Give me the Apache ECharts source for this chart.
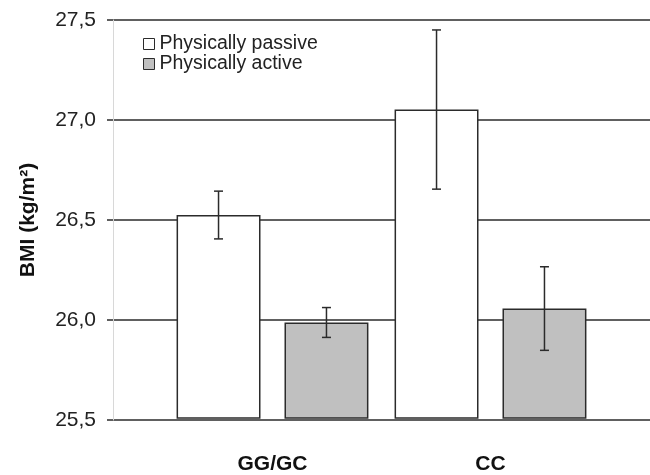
<!DOCTYPE html>
<html><head><meta charset="utf-8">
<script src="https://cdn.jsdelivr.net/npm/echarts@6/dist/echarts.min.js"></script>
<style>html,body{margin:0;padding:0;background:#fff}#c{width:650px;height:475px}</style>
</head><body><div id="c"></div>
<script>
const categories = ['GG/GC', 'CC'];
const seriesNames = ['Physically passive', 'Physically active'];
const passive = [26.52, 27.05];
const active = [25.98, 26.05];
const passiveErr = [0.12, 0.40];
const activeErr = [0.075, 0.21];
const yMin = 25.5, yMax = 27.5, yStep = 0.5;

const FONT = 'Arial, "Liberation Sans", sans-serif';
const INK = '#2b2b2b';
const BAR_W = 0.385;   // fraction of category band
const BAR_GAP = 0.286; // fraction of bar width

function errData(vals, errs, s) {
  return vals.map((v, i) => [i, v - errs[i], v + errs[i], s]);
}

function renderErr(params, api) {
  const x = api.value(0);
  const s = api.value(3);
  const lo = api.coord([x, api.value(1)]);
  const hi = api.coord([x, api.value(2)]);
  const band = api.size([1, 0])[0];
  const bw = band * BAR_W;
  const off = (bw + bw * BAR_GAP) / 2 * (s === 0 ? -1 : 1);
  const cx = lo[0] + off;
  const cap = 4.5;
  const st = { stroke: INK, lineWidth: 1.5 };
  return {
    type: 'group',
    children: [
      { type: 'line', shape: { x1: cx, y1: lo[1], x2: cx, y2: hi[1] }, style: st },
      { type: 'line', shape: { x1: cx - cap, y1: lo[1], x2: cx + cap, y2: lo[1] }, style: st },
      { type: 'line', shape: { x1: cx - cap, y1: hi[1], x2: cx + cap, y2: hi[1] }, style: st }
    ]
  };
}

const chart = echarts.init(document.getElementById('c'), null, { renderer: 'canvas' });
chart.setOption({
  backgroundColor: '#fff',
  animation: false,
  textStyle: { fontFamily: FONT },
  legend: {
    orient: 'vertical', left: 138, top: 29,
    icon: 'rect', itemWidth: 11, itemHeight: 11, itemGap: 0,
    textStyle: { fontSize: 19.5, color: '#222', fontFamily: FONT, lineHeight: 18 },
    data: [
      { name: seriesNames[0], itemStyle: { color: '#fff', borderColor: INK, borderWidth: 1 } },
      { name: seriesNames[1], itemStyle: { color: '#c0c0c0', borderColor: INK, borderWidth: 1 } }
    ]
  },
  grid: [
    { left: 113, right: 0, top: 20, bottom: 55 },
    { left: 163.5, width: 436, top: 20, bottom: 55 }
  ],
  xAxis: [
    { type: 'category', gridIndex: 0, data: categories, show: false },
    { type: 'category', gridIndex: 1, data: categories,
      axisLine: { show: false }, axisTick: { show: false },
      axisLabel: { fontSize: 21, fontWeight: 'bold', color: '#111', margin: 36, fontFamily: FONT } }
  ],
  yAxis: [
    { type: 'value', gridIndex: 0, min: yMin, max: yMax, interval: yStep,
      name: 'BMI (kg/m²)', nameLocation: 'middle', nameGap: 74,
      nameTextStyle: { fontSize: 21, fontWeight: 'bold', color: '#111', fontFamily: FONT },
      axisLine: { show: true, lineStyle: { color: '#d8d8d8', width: 1 } },
      axisTick: { show: true, length: 6, lineStyle: { color: INK, width: 1.5 } },
      axisLabel: { fontSize: 21, color: '#222', margin: 17, fontFamily: FONT,
        formatter: v => v.toFixed(1).replace('.', ',') },
      splitLine: { show: true, lineStyle: { color: INK, width: 1.5 } } },
    { type: 'value', gridIndex: 1, min: yMin, max: yMax, interval: yStep, show: false,
      splitLine: { show: false } }
  ],
  series: [
    { name: seriesNames[0], type: 'bar', xAxisIndex: 1, yAxisIndex: 1, data: passive,
      barWidth: (BAR_W * 100) + '%', barGap: (BAR_GAP * 100) + '%',
      itemStyle: { color: '#fff', borderColor: INK, borderWidth: 1.5 } },
    { name: seriesNames[1], type: 'bar', xAxisIndex: 1, yAxisIndex: 1, data: active,
      barWidth: (BAR_W * 100) + '%', barGap: (BAR_GAP * 100) + '%',
      itemStyle: { color: '#c0c0c0', borderColor: INK, borderWidth: 1.5 } },
    { name: 'err0', type: 'custom', xAxisIndex: 1, yAxisIndex: 1, renderItem: renderErr,
      data: errData(passive, passiveErr, 0), z: 5 },
    { name: 'err1', type: 'custom', xAxisIndex: 1, yAxisIndex: 1, renderItem: renderErr,
      data: errData(active, activeErr, 1), z: 5 }
  ]
});
</script></body></html>
